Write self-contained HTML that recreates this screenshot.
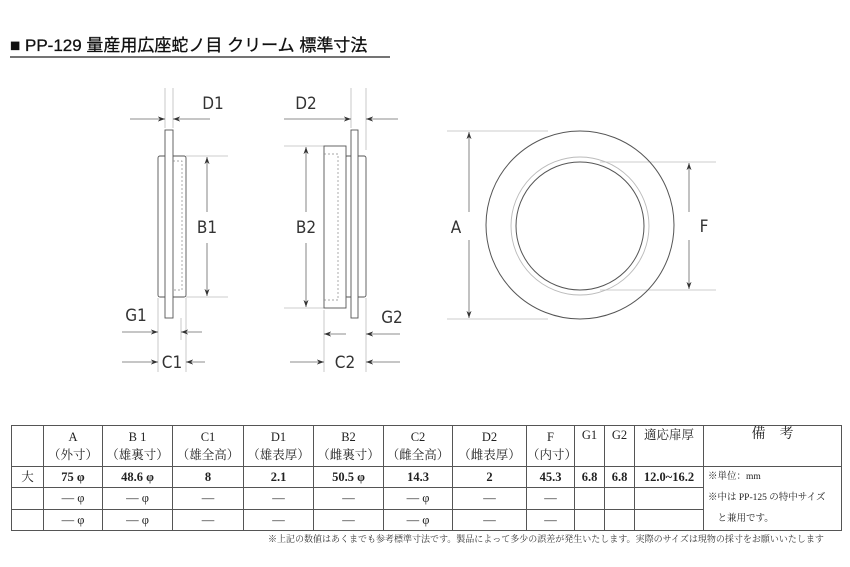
<!DOCTYPE html>
<html><head><meta charset="utf-8"><style>
body{margin:0;width:850px;height:567px;background:#fff;overflow:hidden;position:relative;font-family:"Liberation Serif","Noto Serif CJK SC",serif}
svg{position:absolute;left:0;top:0}
table{position:absolute;left:11px;top:425px;border-collapse:collapse;font-size:12.5px;color:#222}
td{border:1px solid #555;text-align:center;padding:0;height:20px;line-height:18px}
.b td{font-weight:bold}
.note{position:absolute;left:268px;top:532px;font-size:9px;color:#333;font-family:"Liberation Serif","Noto Serif CJK JP",serif;white-space:nowrap}
</style></head><body>
<svg width="850" height="567" viewBox="0 0 850 567">
<defs>
<marker id="a" viewBox="0 0 10 10" refX="10" refY="5" markerWidth="9" markerHeight="9" orient="auto-start-reverse"><path d="M0,1.5 L10,5 L0,8.5 L3,5 Z" fill="#333"/></marker>
</defs>
<text x="10" y="51" font-family="'Liberation Sans','Noto Sans CJK JP',sans-serif" font-size="17" fill="#111" stroke="#111" stroke-width="0.3">■ PP-129 量産用広座蛇ノ目 クリーム 標準寸法</text>
<line x1="10" y1="57" x2="390" y2="57" stroke="#222" stroke-width="1.3"/>
<g stroke="#bbb" stroke-width="0.8" fill="none">
<line x1="165" y1="88" x2="165" y2="128"/><line x1="173" y1="88" x2="173" y2="128"/>
<line x1="186" y1="156" x2="228" y2="156"/><line x1="186" y1="297" x2="228" y2="297"/>
<line x1="158" y1="298" x2="158" y2="372"/><line x1="186" y1="298" x2="186" y2="372"/>
<line x1="181" y1="318" x2="181" y2="340"/>
<line x1="351" y1="88" x2="351" y2="128"/><line x1="366" y1="88" x2="366" y2="150"/>
<line x1="284" y1="146" x2="324" y2="146"/><line x1="284" y1="308" x2="324" y2="308"/>
<line x1="324" y1="310" x2="324" y2="372"/><line x1="366" y1="298" x2="366" y2="372"/>
<line x1="447" y1="131" x2="548" y2="131"/><line x1="447" y1="319" x2="548" y2="319"/>
<line x1="600" y1="162" x2="716" y2="162"/><line x1="600" y1="290" x2="716" y2="290"/>
</g>
<g stroke="#555" stroke-width="0.9" fill="#fff">
<rect x="158" y="156" width="28" height="141" rx="2"/>
<rect x="165" y="130" width="8" height="188"/>
<rect x="345" y="156" width="21" height="141" rx="2"/>
<rect x="324" y="146" width="22" height="162"/>
<rect x="351" y="130" width="7" height="188"/>
</g>
<g stroke="#888" stroke-width="0.7" stroke-dasharray="2,2" fill="none">
<polyline points="173,161 182,161 182,290 173,290"/>
<polyline points="324,154 338,154 338,300 324,300"/>
</g>
<g stroke="#666" stroke-width="0.8" fill="none">
<line x1="130" y1="119" x2="165" y2="119" marker-end="url(#a)"/><line x1="210" y1="119" x2="173" y2="119" marker-end="url(#a)"/>
<line x1="207" y1="212" x2="207" y2="157" marker-end="url(#a)"/><line x1="207" y1="243" x2="207" y2="296" marker-end="url(#a)"/>
<line x1="122" y1="332" x2="158" y2="332" marker-end="url(#a)"/><line x1="202" y1="332" x2="181" y2="332" marker-end="url(#a)"/>
<line x1="122" y1="362" x2="158" y2="362" marker-end="url(#a)"/><line x1="205" y1="362" x2="186" y2="362" marker-end="url(#a)"/>
<line x1="284" y1="119" x2="351" y2="119" marker-end="url(#a)"/><line x1="398" y1="119" x2="366" y2="119" marker-end="url(#a)"/>
<line x1="306" y1="212" x2="306" y2="147" marker-end="url(#a)"/><line x1="306" y1="243" x2="306" y2="307" marker-end="url(#a)"/>
<line x1="324" y1="334" x2="346" y2="334" marker-start="url(#a)"/><line x1="400" y1="334" x2="366" y2="334" marker-end="url(#a)"/>
<line x1="290" y1="362" x2="324" y2="362" marker-end="url(#a)"/><line x1="400" y1="362" x2="366" y2="362" marker-end="url(#a)"/>
<line x1="469" y1="212" x2="469" y2="132" marker-end="url(#a)"/><line x1="469" y1="240" x2="469" y2="318" marker-end="url(#a)"/>
<line x1="689" y1="212" x2="689" y2="163" marker-end="url(#a)"/><line x1="689" y1="240" x2="689" y2="289" marker-end="url(#a)"/>
</g>
<circle cx="580" cy="225" r="94" fill="none" stroke="#555" stroke-width="1"/>
<circle cx="580" cy="226" r="69" fill="none" stroke="#bbb" stroke-width="0.9"/>
<circle cx="580" cy="226" r="64" fill="none" stroke="#555" stroke-width="1"/>
<g font-family="'DejaVu Sans Condensed','Liberation Sans',sans-serif" font-size="17" fill="#333" text-anchor="middle">
<text x="213" y="109">D1</text><text x="306" y="109">D2</text>
<text x="207" y="233">B1</text><text x="306" y="233">B2</text>
<text x="136" y="321">G1</text><text x="392" y="323">G2</text>
<text x="172" y="368">C1</text><text x="345" y="368">C2</text>
<text x="456" y="233">A</text><text x="704" y="232">F</text>
</g>
</svg>
<table>
<tr style="height:41px"><td style="width:31px"></td><td style="width:58px">A<br>（外寸）</td><td style="width:69px">B 1<br>（雄裏寸）</td><td style="width:70px">C1<br>（雄全高）</td><td style="width:69px">D1<br>（雄表厚）</td><td style="width:69px">B2<br>（雌裏寸）</td><td style="width:68px">C2<br>（雌全高）</td><td style="width:73px">D2<br>（雌表厚）</td><td style="width:47px">F<br>（内寸）</td><td style="width:29px;vertical-align:top">G1</td><td style="width:29px;vertical-align:top">G2</td><td style="width:68px;vertical-align:top">適応扉厚</td><td style="width:137px;vertical-align:top;font-size:14px">備　考</td></tr>
<tr class="b"><td style="font-weight:normal">大</td><td>75 φ</td><td>48.6 φ</td><td>8</td><td>2.1</td><td>50.5 φ</td><td>14.3</td><td>2</td><td>45.3</td><td>6.8</td><td>6.8</td><td>12.0~16.2</td><td rowspan="3" style="text-align:left;font-size:9.5px;line-height:21px;padding-left:4px;font-weight:normal">※単位：mm<br>※中は PP-125 の特中サイズ<br>　と兼用です。</td></tr>
<tr><td></td><td>— φ</td><td>— φ</td><td>—</td><td>—</td><td>—</td><td>— φ</td><td>—</td><td>—</td><td></td><td></td><td></td></tr>
<tr><td></td><td>— φ</td><td>— φ</td><td>—</td><td>—</td><td>—</td><td>— φ</td><td>—</td><td>—</td><td></td><td></td><td></td></tr>
</table>
<div class="note">※上記の数値はあくまでも参考標準寸法です。製品によって多少の誤差が発生いたします。実際のサイズは現物の採寸をお願いいたします</div>
</body></html>
